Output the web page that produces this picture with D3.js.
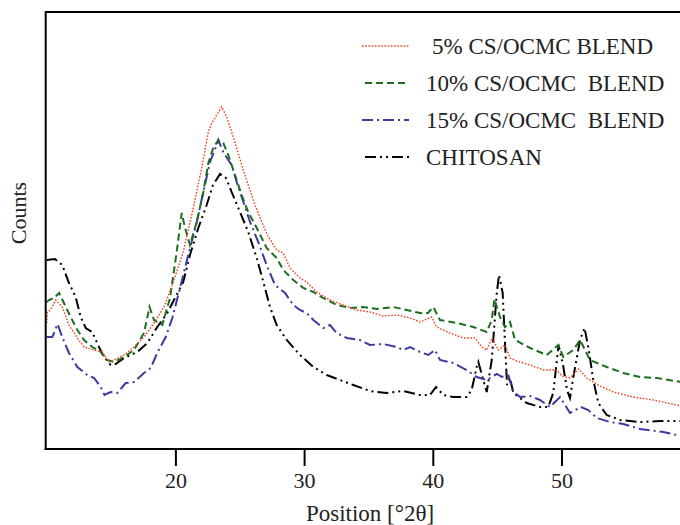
<!DOCTYPE html>
<html>
<head>
<meta charset="utf-8">
<script src="https://cdn.jsdelivr.net/npm/d3@7"></script>
<style>
  html, body { margin: 0; padding: 0; background: #fff; }
  svg { display: block; font-family: "Liberation Serif", "DejaVu Serif", serif; }
</style>
</head>
<body>
<div id="content"></div>
<script>
// XRD patterns, position in degrees 2-theta and counts (arbitrary units)
const chitosanTheta = [10.0,10.64,11.21,11.73,12.25,12.64,13.03,13.54,14.06,14.45,14.97,15.36,16.01,17.04,17.82,18.59,19.37,19.89,20.61,21.13,21.78,22.43,22.92,23.47,23.93,24.37,25.02,25.66,26.32,26.96,27.35,27.87,28.65,29.68,30.72,31.76,32.79,33.82,35.12,36.42,37.71,39.01,39.78,40.25,40.82,41.59,42.63,43.02,43.41,43.54,43.92,44.19,44.58,44.97,45.14,45.43,45.61,45.77,46.0,46.26,47.3,48.33,48.97,49.36,49.77,50.12,50.43,50.66,50.92,51.44,51.79,52.08,52.47,52.86,53.51,54.55,56.1,57.65,59.3];
const chitosanCounts = [189,190,184,166,152,132,121,117,102,92,84,85,91,97,106,122,136,149,167,194,221,244,264,275,271,257,237,217,191,161,142,124,109,94,82,74,69,64,58,56,58,54,54,62,54,52,52,59,82,87,69,57,89,156,174,156,106,64,71,56,46,42,42,56,104,84,59,51,72,109,121,102,69,46,34,29,27,28,28];

const blend5Theta = [10.0,10.05,10.31,10.7,11.21,11.73,12.38,12.9,13.68,14.32,14.84,15.23,16.01,16.78,17.56,18.34,19.11,19.76,20.61,21.39,22.04,22.56,22.82,23.21,23.6,23.99,24.37,24.76,25.15,25.66,26.19,26.71,27.19,27.87,28.38,28.9,29.68,30.2,30.98,32.01,33.05,34.09,35.12,36.15,37.2,38.23,39.01,39.91,40.3,41.33,42.37,43.28,43.8,44.19,44.6,45.09,45.61,46.0,46.52,47.56,48.59,49.63,50.02,50.66,51.32,51.96,52.99,54.03,55.58,57.13,59.3];
const blend5Counts = [126,137,139,149,142,124,111,102,99,97,87,89,94,102,112,126,142,164,197,241,281,317,326,334,342,332,317,301,284,264,244,227,213,199,196,181,171,167,157,149,144,139,137,133,134,131,127,132,122,116,111,111,102,99,111,99,104,91,88,84,79,79,73,71,80,71,63,57,52,49,43];

const blend10Theta = [10.0,10.18,10.57,10.96,11.34,11.86,12.38,12.9,13.54,14.2,14.71,15.23,16.01,16.78,17.56,17.99,18.34,18.98,19.58,20.1,20.49,20.75,21.13,21.66,22.17,22.56,22.94,23.33,23.72,24.11,24.63,25.15,25.66,26.32,27.09,27.87,28.38,29.16,29.94,30.72,31.49,32.53,33.57,34.6,35.64,36.93,37.97,39.01,39.63,40.04,40.56,41.86,43.15,44.19,44.58,44.79,45.22,45.61,46.0,46.39,47.56,48.85,49.75,50.14,50.92,51.44,52.21,53.51,54.8,56.1,57.4,59.3];
const blend10Counts = [147,149,151,156,146,132,119,109,102,97,89,87,92,99,116,142,129,124,151,197,236,221,204,227,257,286,301,309,306,294,274,254,237,221,201,191,179,169,161,157,151,144,141,142,140,142,139,136,136,142,129,126,122,117,129,150,132,122,127,109,101,94,104,92,99,109,89,82,76,72,71,67];

const blend15Theta = [10.0,10.44,10.84,11.21,11.73,12.38,13.15,13.68,14.2,14.49,14.97,15.49,16.14,16.78,17.56,18.08,18.59,19.25,19.76,20.36,21.0,21.66,22.17,22.69,23.21,23.33,23.72,24.11,24.37,24.76,25.28,25.8,26.44,27.09,27.74,28.52,29.16,29.68,30.2,30.72,31.49,32.01,32.53,33.31,34.34,35.12,36.15,37.2,37.71,38.23,39.01,39.65,40.17,40.56,41.59,42.63,43.41,44.19,44.97,45.38,45.77,46.26,46.79,47.56,48.33,49.11,49.89,50.66,51.52,52.08,52.74,53.77,54.8,56.1,57.91,59.3];
const blend15Counts = [112,112,125,112,96,82,74,71,62,54,57,56,66,67,76,81,96,112,131,161,194,227,257,287,304,309,297,289,284,267,247,227,207,184,164,156,144,139,136,129,121,124,116,111,109,104,105,102,99,102,97,94,99,89,86,79,72,69,75,72,78,57,52,53,49,42,52,36,42,39,31,27,25,20,17,13];

const seriesNames = ["5% CS/OCMC BLEND", "10% CS/OCMC  BLEND", "15% CS/OCMC  BLEND", "CHITOSAN"];
const xTicks = [20, 30, 40, 50];

const width = 680;
const height = 525;
const plotLeft = 46.7, plotRight = 690.2, plotTop = 12, plotBottom = 449;

const svg = d3.select("#content")
    .append("svg")
    .attr("width", width)
    .attr("height", height);

const xScale = d3.scaleLinear()
    .domain([10, 60])
    .range([plotLeft, plotRight]);
const yScale = d3.scaleLinear()
    .domain([0, 437])
    .range([plotBottom, plotTop]);

const series = [
    { name: seriesNames[0], x: blend5Theta, y: blend5Counts, color: "#f2411f", w: 1.4, dash: "1.6,1.6" },
    { name: seriesNames[1], x: blend10Theta, y: blend10Counts, color: "#1d6e1d", w: 2, dash: "7,4" },
    { name: seriesNames[2], x: blend15Theta, y: blend15Counts, color: "#3b3aa2", w: 2, dash: "11,4,2,4" },
    { name: seriesNames[3], x: chitosanTheta, y: chitosanCounts, color: "#000", w: 2, dash: "11,4,2,4,2,4" }
];

const line = d3.line()
    .x(d => xScale(d[0]))
    .y(d => yScale(d[1]));

// chitosan first so the blends sit on top
[3, 2, 1, 0].forEach(i => {
    const s = series[i];
    svg.append("path")
        .datum(s.x.map((t, j) => [t, s.y[j]]))
        .attr("fill", "none")
        .attr("stroke", s.color)
        .attr("stroke-width", s.w)
        .attr("stroke-dasharray", s.dash)
        .attr("d", line);
});

// frame: top line + left axis
svg.append("line")
    .attr("x1", plotLeft - 1).attr("x2", width + 5)
    .attr("y1", plotTop).attr("y2", plotTop)
    .attr("stroke", "#000").attr("stroke-width", 2);
svg.append("line")
    .attr("x1", plotLeft - 1).attr("x2", plotLeft - 1)
    .attr("y1", plotTop - 1).attr("y2", plotBottom + 1)
    .attr("stroke", "#000").attr("stroke-width", 2);

const xAxis = d3.axisBottom(xScale)
    .tickValues(xTicks)
    .tickSize(17)
    .tickPadding(6)
    .tickSizeOuter(0);

const gx = svg.append("g")
    .attr("id", "x-axis")
    .attr("transform", `translate(0, ${plotBottom})`)
    .call(xAxis);
gx.select(".domain").attr("stroke-width", 2).attr("d", `M${plotLeft - 2},0H${width + 5}`);
gx.selectAll(".tick line").attr("stroke-width", 2);
gx.selectAll(".tick text")
    .attr("font-family", "Liberation Serif, serif")
    .attr("font-size", 22)
    .attr("fill", "#222");

svg.append("text")
    .attr("x", 370)
    .attr("y", 521)
    .attr("text-anchor", "middle")
    .attr("font-size", 23)
    .attr("fill", "#222")
    .text("Position [°2θ]");

svg.append("text")
    .attr("transform", "translate(26, 213) rotate(-90)")
    .attr("text-anchor", "middle")
    .attr("font-size", 22)
    .attr("fill", "#222")
    .text("Counts");

// legend
const legendRows = [46, 83, 120, 157];
const legendLineX = [[362, 409], [365, 408], [362, 409], [365, 411]];
const legendTextX = [432, 426, 426, 426];
series.forEach((s, i) => {
    svg.append("line")
        .attr("x1", legendLineX[i][0]).attr("x2", legendLineX[i][1])
        .attr("y1", legendRows[i]).attr("y2", legendRows[i])
        .attr("stroke", s.color)
        .attr("stroke-width", s.w)
        .attr("stroke-dasharray", s.dash);
    svg.append("text")
        .attr("x", legendTextX[i])
        .attr("y", legendRows[i] + 8)
        .attr("font-size", 23)
        .attr("fill", "#222")
        .style("white-space", "pre")
        .text(s.name);
});
</script>
</body>
</html>
